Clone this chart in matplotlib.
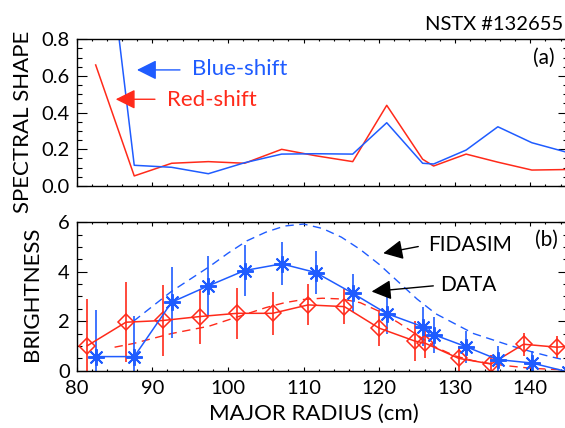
import numpy as np
import matplotlib
matplotlib.use('Agg')
import matplotlib.pyplot as plt
from matplotlib.ticker import MultipleLocator, FormatStrFormatter

plt.rcParams['font.family'] = ['Lato', 'DejaVu Sans']

blue = '#1f5cff'
red = '#ff2a1a'

# radius of the channels (cm)
r_blue = [82.5, 87.6, 92.55, 97.4, 102.2, 107.1, 111.6, 116.5, 121.0, 125.75, 127.2, 131.5, 135.7, 140.2, 145.0]
r_red = [81.4, 86.5, 91.4, 96.3, 101.2, 105.9, 110.6, 115.4, 120.0, 124.7, 126.1, 130.5, 134.8, 139.1, 143.5, 147.5]

# (a) spectral shape
shape_blue = [1.87, 0.113, 0.102, 0.067, 0.127, 0.174, 0.176, 0.174, 0.345, 0.124, 0.12, 0.196, 0.323, 0.236, 0.182]
shape_red = [0.66, 0.055, 0.124, 0.133, 0.124, 0.2, 0.165, 0.133, 0.44, 0.146, 0.109, 0.174, 0.13, 0.087, 0.09]

# (b) brightness data
bright_blue = [0.57, 0.57, 2.77, 3.43, 4.05, 4.32, 3.97, 3.13, 2.31, 1.78, 1.46, 0.97, 0.45, 0.31, -0.05]
err_blue = [1.89, 1.66, 1.44, 1.2, 1.02, 0.87, 0.85, 0.76, 0.81, 0.78, 0.73, 0.65, 0.55, 0.47, 0.42]
bright_red = [1.01, 1.96, 2.03, 2.19, 2.32, 2.32, 2.66, 2.59, 1.72, 1.2, 1.11, 0.5, 0.27, 1.07, 0.95, 1.05]
err_red = [1.88, 1.62, 1.45, 1.13, 1.03, 0.88, 0.83, 0.72, 0.73, 0.82, 0.6, 0.5, 0.35, 0.47, 0.45, 0.45]

# FIDASIM curves
r_sim_blue = [87.5, 90, 92.5, 95, 97.5, 100, 102.5, 105, 107.5, 110, 112.5, 115, 117.5, 120,
              122.5, 125, 127.5, 130, 132.5, 135, 137.5, 140, 142.5, 145]
sim_blue = [2.0, 2.6, 3.2, 3.7, 4.2, 4.75, 5.25, 5.6, 5.85, 5.93, 5.75, 5.4, 4.9, 4.3,
            3.6, 2.9, 2.3, 1.9, 1.5, 1.25, 1.0, 0.78, 0.58, 0.4]
r_sim_red = [85, 87.5, 90, 92.5, 95, 97.5, 100, 102.5, 105, 107.5, 110, 112.5, 115, 117.5,
             120, 122.5, 125, 127.5, 130, 132.5, 135, 137.5, 140, 142.5, 145]
sim_red = [0.95, 1.1, 1.3, 1.5, 1.65, 1.8, 2.05, 2.3, 2.55, 2.75, 2.88, 2.93, 2.9, 2.75,
           2.4, 1.95, 1.45, 0.95, 0.6, 0.4, 0.27, 0.18, 0.1, 0.06, 0.03]

fig = plt.figure(figsize=(5.65, 4.28), dpi=100)
ax1 = fig.add_axes([0.1359, 0.5654, 0.8697, 0.3428])
ax2 = fig.add_axes([0.1359, 0.1339, 0.8697, 0.3467])

for ax in (ax1, ax2):
    ax.set_xlim(80, 145)
    ax.xaxis.set_major_locator(MultipleLocator(10))
    ax.xaxis.set_minor_locator(MultipleLocator(2))
    ax.tick_params(which='both', direction='in', top=True, right=True, labelsize=14.5, width=0.8)
    ax.tick_params(axis='y', which='major', length=7, pad=5)
    ax.tick_params(axis='y', which='minor', length=3.5)
    ax.tick_params(axis='x', which='major', length=3, pad=7)
    ax.tick_params(axis='x', which='minor', length=1.5)
    for s in ax.spines.values():
        s.set_linewidth(1.0)

# top panel
ax1.plot(r_blue, shape_red, color=red, lw=1.1)
ax1.plot(r_blue, shape_blue, color=blue, lw=1.1)
ax1.set_ylim(0, 0.8)
ax1.yaxis.set_major_locator(MultipleLocator(0.2))
ax1.yaxis.set_minor_locator(MultipleLocator(0.05))
ax1.yaxis.set_major_formatter(FormatStrFormatter('%.1f'))
ax1.tick_params(axis='x', labelbottom=False)
ax1.set_ylabel('SPECTRAL SHAPE', fontsize=16)
ax1.yaxis.set_label_coords(-0.0885, 0.44)
ax1.text(0.951, 0.873, '(a)', transform=ax1.transAxes, ha='center', va='center', fontsize=15)

hd = dict(arrowstyle='-|>,head_length=0.8,head_width=0.4', lw=1.0, mutation_scale=15, shrinkA=0, shrinkB=0)
ax1.annotate('', xy=(87.96, 0.633), xytext=(93.65, 0.633), arrowprops=dict(color=blue, **hd))
ax1.text(95.2, 0.638, 'Blue-shift', color=blue, fontsize=16, va='center', ha='left')
ax1.annotate('', xy=(85.15, 0.473), xytext=(90.34, 0.473), arrowprops=dict(color=red, **hd))
ax1.text(91.9, 0.47, 'Red-shift', color=red, fontsize=16, va='center', ha='left')

fig.text(0.997, 0.9416, 'NSTX #132655', fontsize=14.5, ha='right', va='center')

# bottom panel
ax2.plot(r_sim_blue, sim_blue, color=blue, lw=1.0, ls=(0, (6, 4)))
ax2.plot(r_sim_red, sim_red, color=red, lw=1.0, ls=(0, (6, 4)))
ax2.errorbar(r_red, bright_red, yerr=err_red, color=red, lw=1.1, elinewidth=1.2,
             marker='D', ms=8, mfc='none', mec=red, mew=1.1, capsize=0)
ax2.errorbar(r_blue, bright_blue, yerr=err_blue, color=blue, lw=1.1, elinewidth=1.2,
             marker=(8, 2, 0), ms=12, mec=blue, mew=1.4, capsize=0)
ax2.set_ylim(0, 6)
ax2.yaxis.set_major_locator(MultipleLocator(2))
ax2.yaxis.set_minor_locator(MultipleLocator(0.5))
ax2.set_ylabel('BRIGHTNESS', fontsize=16)
ax2.yaxis.set_label_coords(-0.0714, 0.515)
ax2.set_xlabel('MAJOR RADIUS (cm)', fontsize=16)
ax2.xaxis.set_label_coords(0.483, -0.225)
ax2.text(0.955, 0.881, '(b)', transform=ax2.transAxes, ha='center', va='center', fontsize=15)

kd = dict(arrowstyle='-|>,head_length=0.8,head_width=0.4', lw=1.0, mutation_scale=15,
          color='black', shrinkA=0, shrinkB=0)
ax2.annotate('', xy=(120.54, 4.75), xytext=(125.17, 5.02), arrowprops=kd)
ax2.text(126.5, 5.09, 'FIDASIM', fontsize=15, va='center', ha='left')
ax2.annotate('', xy=(119.0, 3.2), xytext=(127.16, 3.43), arrowprops=kd)
ax2.text(128.04, 3.47, 'DATA', fontsize=15, va='center', ha='left')

fig.savefig('out.png', dpi=100)
